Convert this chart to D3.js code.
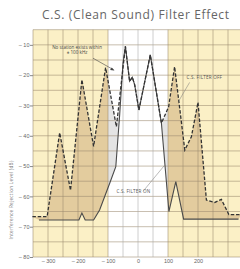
<!DOCTYPE html>
<html>
<head>
<meta charset="utf-8">
<script src="https://cdn.jsdelivr.net/npm/d3@7"></script>
<style>
  html, body { margin: 0; padding: 0; background: #fff; }
  svg { display: block; font-family: "Open Sans", "DejaVu Sans", sans-serif; }
</style>
</head>
<body>
<svg id="chart"></svg>
<script>
// C.S. (Clean Sound) filter effect - interference rejection level vs. offset (kHz)
const offTrace = [
    [-352, -66.7], [-303, -66.7], [-261, -39], [-225, -58], [-187, -21.5], [-148, -43.5],
    [-108, -17.5], [-72, -37], [-42, -10.5], [-28, -22], [-19, -20.7], [-11, -23.2],
    [3, -31.5], [41, -13.3], [78, -35.8], [102, -30.5], [122, -17.2], [156, -44.7],
    [178, -40.3], [200, -29], [228, -61.2], [256, -62], [278, -61], [303, -66], [345, -66]
];
const onTrace = [
    [-330, -67.8], [-197, -67.8], [-187, -65.5], [-176, -67.8], [-148, -67.8], [-128, -64.5],
    [-94, -55.6], [-74, -50.2], [-61, -33], [-50, -16], [-42, -10.5], [-28, -22], [-19, -20.7],
    [-11, -23.2], [3, -31.5], [41, -13.3], [78, -35.8], [103, -65], [126, -55.1], [152, -67.5],
    [335, -67.5]
];
const yTicks = [-10, -20, -30, -40, -50, -60, -70, -80];
const xTicks = [-300, -200, -100, 0, 100, 200];
const yGrid = d3.range(-80, -4, 5);
const xGrid = d3.range(-350, 351, 50);
const shadedBands = [[-350, -100], [100, 350]];

const width = 240, height = 269;
const svg = d3.select("#chart").attr("width", width).attr("height", height);

const x = d3.scaleLinear().domain([-350, 350]).range([33, 243]);
const y = d3.scaleLinear().domain([-80, -5]).range([257, 29.7]);

// title
svg.append("text")
    .attr("x", 42)
    .attr("y", 19)
    .attr("font-size", "12px")
    .attr("letter-spacing", "0.65px")
    .attr("fill", "#666")
    .text("C.S. (Clean Sound) Filter Effect");

// yellow bands
svg.append("g").selectAll("rect")
    .data(shadedBands)
    .enter()
    .append("rect")
    .attr("x", function (d) { return x(d[0]); })
    .attr("y", y(-5))
    .attr("width", function (d) { return x(d[1]) - x(d[0]); })
    .attr("height", y(-80) - y(-5))
    .attr("fill", "#fbf0c6");

// fill between the two traces
const fillPoly = offTrace.concat(onTrace.slice().reverse());
const poly = d3.line()
    .x(function (d) { return x(d[0]); })
    .y(function (d) { return y(d[1]); });

const defs = svg.append("defs");
defs.append("clipPath").attr("id", "clip-bands")
    .selectAll("rect").data(shadedBands).enter().append("rect")
    .attr("x", function (d) { return x(d[0]); })
    .attr("y", 0)
    .attr("width", function (d) { return x(d[1]) - x(d[0]); })
    .attr("height", height);
defs.append("clipPath").attr("id", "clip-center")
    .append("rect")
    .attr("x", x(-100))
    .attr("y", 0)
    .attr("width", x(100) - x(-100))
    .attr("height", height);

svg.append("path")
    .attr("d", poly(fillPoly) + "Z")
    .attr("fill", "#e3cc9e")
    .attr("clip-path", "url(#clip-bands)");
svg.append("path")
    .attr("d", poly(fillPoly) + "Z")
    .attr("fill", "#e4e4e4")
    .attr("clip-path", "url(#clip-center)");

// grid
const grid = svg.append("g").attr("class", "grid");
grid.selectAll(".hgrid")
    .data(yGrid)
    .enter()
    .append("line")
    .attr("class", "hgrid")
    .attr("x1", x(-350))
    .attr("x2", width)
    .attr("y1", function (d) { return y(d); })
    .attr("y2", function (d) { return y(d); })
    .attr("stroke", "#9c8a70")
    .attr("stroke-width", 0.8)
    .attr("opacity", 0.7);
grid.selectAll(".vgrid")
    .data(xGrid)
    .enter()
    .append("line")
    .attr("class", "vgrid")
    .attr("x1", function (d) { return x(d); })
    .attr("x2", function (d) { return x(d); })
    .attr("y1", y(-5))
    .attr("y2", y(-80))
    .attr("stroke", function (d) { return (d > -100 && d < 100) ? "#a8a8a8" : "#9c8a70"; })
    .attr("stroke-width", 0.8)
    .attr("opacity", 0.7);

// traces
svg.append("path")
    .datum(onTrace)
    .attr("d", poly)
    .attr("fill", "none")
    .attr("stroke", "#4a4a4a")
    .attr("stroke-width", 1.1);
svg.append("path")
    .datum(offTrace)
    .attr("d", poly)
    .attr("fill", "none")
    .attr("stroke", "#333")
    .attr("stroke-width", 1.3)
    .attr("stroke-dasharray", "3.5 1.8");

// y axis
const yAxis = d3.axisLeft(y)
    .tickValues(yTicks)
    .tickSize(3)
    .tickFormat(function (d) { return "\u2013 " + Math.abs(d); });
svg.append("g")
    .attr("transform", "translate(" + x(-350) + ",0)")
    .call(yAxis)
    .call(function (g) { g.select(".domain").remove(); })
    .call(function (g) { g.selectAll("line").attr("stroke", "#888"); })
    .call(function (g) {
        g.selectAll("text")
            .attr("fill", "#666")
            .attr("font-size", "5.5px")
            .attr("x", -3.5);
    });

// x axis
const xAxis = d3.axisBottom(x)
    .tickValues(xTicks)
    .tickSize(0)
    .tickFormat(function (d) { return d < 0 ? "\u2013 " + Math.abs(d) : String(d); });
svg.append("g")
    .attr("transform", "translate(0," + y(-80) + ")")
    .call(xAxis)
    .call(function (g) { g.select(".domain").remove(); })
    .call(function (g) {
        g.selectAll("text")
            .attr("fill", "#666")
            .attr("font-size", "5.5px")
            .attr("dy", "0.71em")
            .attr("y", 2);
    });

// y axis title
svg.append("text")
    .attr("transform", "translate(13," + 200 + ") rotate(-90)")
    .attr("text-anchor", "middle")
    .attr("font-size", "4.6px")
    .attr("letter-spacing", "0.3px")
    .attr("fill", "#777")
    .text("Interference Rejection Level  (dB)");

// annotations
const note = svg.append("g").attr("fill", "#444").attr("font-size", "4.6px").attr("text-anchor", "middle");
note.append("text").attr("x", x(-203)).attr("y", y(-11.3)).text("No station exists within");
note.append("text").attr("x", x(-203)).attr("y", y(-12.9)).text("\u00b1 100 kHz");

svg.append("line")
    .attr("x1", x(-150)).attr("y1", y(-14.4))
    .attr("x2", x(-82)).attr("y2", y(-18.2))
    .attr("stroke", "#444")
    .attr("stroke-width", 0.6);
svg.append("path")
    .attr("d", "M" + x(-78) + "," + y(-18.5) + " l-4.5,-0.6 l1.6,-2.4 z")
    .attr("fill", "#444");

svg.append("text")
    .attr("x", x(162))
    .attr("y", y(-21.4))
    .attr("font-size", "4.6px")
    .attr("letter-spacing", "0.2px")
    .attr("fill", "#555")
    .text("C.S. FILTER OFF");
svg.append("line")
    .attr("x1", x(172)).attr("y1", y(-22.4))
    .attr("x2", x(136)).attr("y2", y(-28.5))
    .attr("stroke", "#777")
    .attr("stroke-width", 0.5);

svg.append("text")
    .attr("x", x(-72))
    .attr("y", y(-59))
    .attr("font-size", "4.6px")
    .attr("letter-spacing", "0.2px")
    .attr("fill", "#555")
    .text("C.S. FILTER ON");
svg.append("line")
    .attr("x1", x(17)).attr("y1", y(-58.3))
    .attr("x2", x(88)).attr("y2", y(-49.8))
    .attr("stroke", "#777")
    .attr("stroke-width", 0.5);
</script>
</body>
</html>
